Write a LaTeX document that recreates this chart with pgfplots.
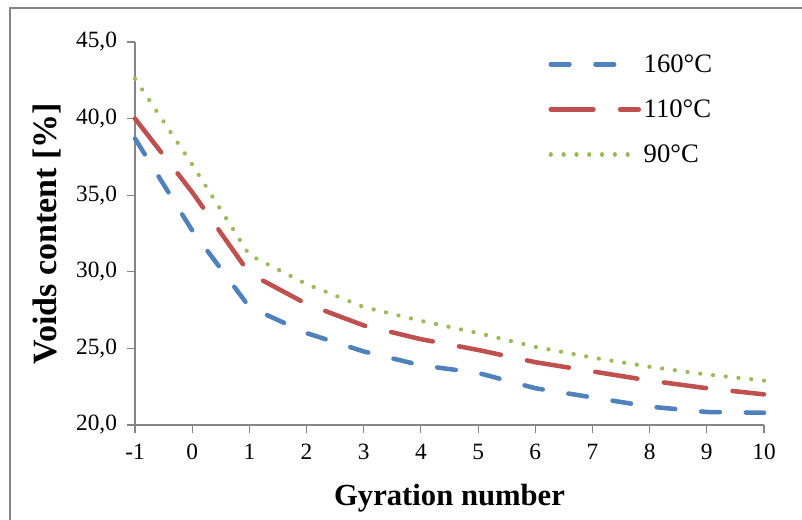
\documentclass[border=0pt]{standalone}
\usepackage{pgfplots}
\pgfplotsset{compat=1.18}
\usepackage{fontspec}
\setmainfont{Liberation Serif}
\definecolor{cblue}{HTML}{4F81BD}
\definecolor{cred}{HTML}{C0504D}
\definecolor{cgreen}{HTML}{9BBB59}
\definecolor{axgray}{HTML}{868686}
\begin{document}
\begin{tikzpicture}
\begin{axis}[
  scale only axis,
  width=471.75pt, height=287.25pt,
  xmin=-1, xmax=10, ymin=20, ymax=45,
  xtick={-1,0,...,10},
  ytick={20,25,30,35,40,45},
  axis x line*=bottom, axis y line*=left,
  axis line style={axgray, line width=0.8pt, -},
  tick style={axgray, line width=0.8pt},
  tick align=outside, major tick length=6pt,
  tick label style={font=\fontsize{17.5}{19}\selectfont, black},
  yticklabel style={xshift=-4pt, /pgf/number format/.cd, fixed, fixed zerofill, precision=1, use comma, assume math mode=true},
  xticklabel style={yshift=-5pt, /pgf/number format/assume math mode=true},
  xlabel={\textbf{Gyration number}},
  ylabel={\textbf{Voids content [\%]}},
  xlabel style={font=\fontsize{23}{25}\selectfont, at={(axis description cs:0.5,-0.19)}, anchor=center},
  ylabel style={font=\fontsize{25.5}{27}\selectfont, at={(axis description cs:-0.14,0.5)}, anchor=center, rotate=0},
  legend style={draw=none, fill=none, at={(axis description cs:0.657,0.975)}, anchor=north west,
    font=\fontsize{20}{22}\selectfont, row sep=15pt, inner sep=0pt,
    /tikz/every even column/.append style={column sep=11pt}},
  legend cell align=left,
  legend image code/.code={\draw[#1] (0pt,0pt) -- (66pt,0pt);},
  clip=false,
]
\addplot[cblue, line width=3.4pt, line cap=round, dash pattern=on 14pt off 19.5pt] coordinates {
(-1,38.7) (0,32.7) (1,27.7) (2,26.0) (3,24.8) (4,23.9) (5,23.4) (6,22.4) (7,21.8) (8,21.2) (9,20.85) (10,20.8)};
\addlegendentry{160°C}
\addplot[cred, line width=3.4pt, line cap=round, dash pattern=on 32pt off 20pt] coordinates {
(-1,40.0) (0,35.2) (1,29.9) (2,27.9) (3,26.5) (4,25.6) (5,24.9) (6,24.1) (7,23.5) (8,22.9) (9,22.4) (10,22.0)};
\addlegendentry{110°C}
\addplot[cgreen, line width=3.2pt, line cap=round, dash pattern=on 0.01pt off 9.6pt] coordinates {
(-1,42.6) (0,37.0) (1,31.1) (2,29.2) (3,27.7) (4,26.8) (5,26.0) (6,25.1) (7,24.4) (8,23.8) (9,23.3) (10,22.9)};
\addlegendentry{90°C}
\end{axis}
\draw[axgray, line width=1.6pt] (-93.75pt,-90pt) -- (-93.75pt,312.75pt) -- (520pt,312.75pt);
\pgfresetboundingbox
\path[use as bounding box] (-101.25pt,-70.5pt) rectangle (500.25pt,318.75pt);
\end{tikzpicture}
\end{document}
